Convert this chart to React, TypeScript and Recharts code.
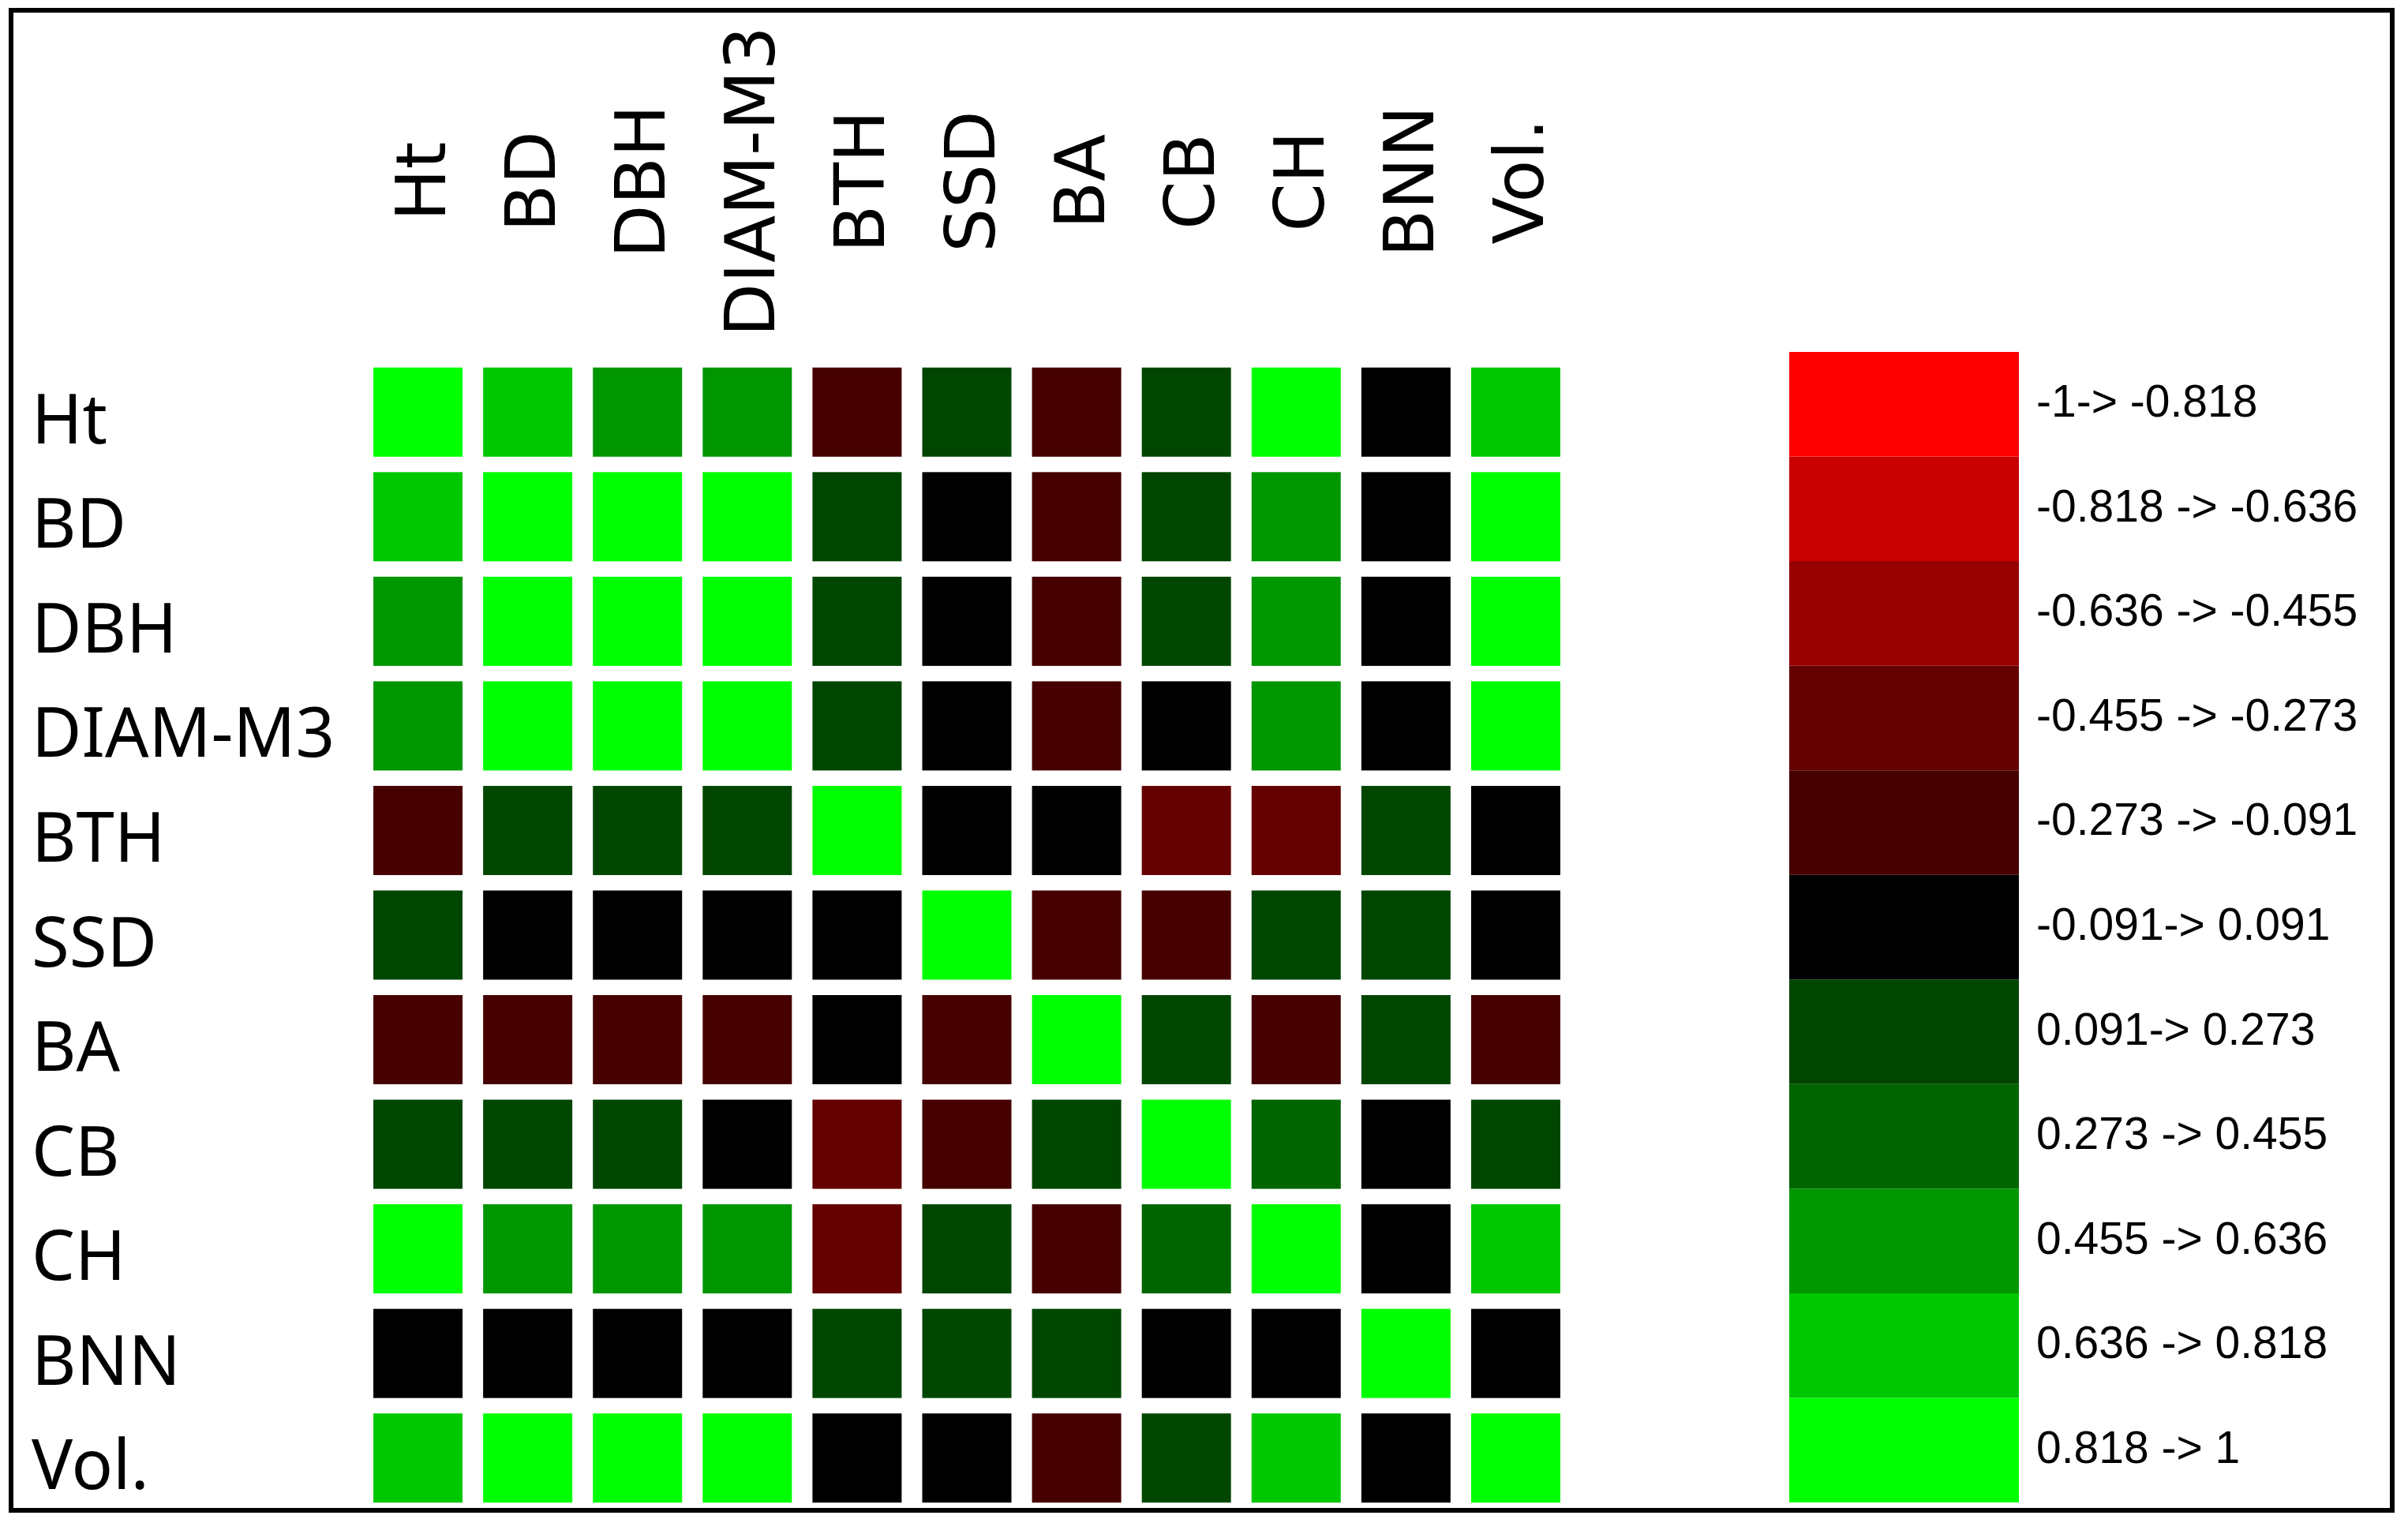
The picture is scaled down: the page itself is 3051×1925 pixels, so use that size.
import React from "react";
import { ScatterChart, Scatter, XAxis, YAxis, BarChart, Bar } from "recharts";

// variable names, same order for rows and columns
const variables = ["Ht", "BD", "DBH", "DIAM-M3", "BTH", "SSD", "BA", "CB", "CH", "BNN", "Vol."];

// correlation rows
const htRow = [1, 0.72, 0.55, 0.54, -0.2, 0.18, -0.19, 0.16, 0.88, 0.02, 0.7];
const bdRow = [0.72, 1, 0.97, 0.95, 0.15, -0.04, -0.2, 0.14, 0.52, -0.03, 0.93];
const dbhRow = [0.55, 0.97, 1, 0.96, 0.14, -0.05, -0.21, 0.13, 0.5, -0.02, 0.94];
const diamRow = [0.54, 0.95, 0.96, 1, 0.16, -0.06, -0.22, 0.08, 0.49, -0.04, 0.92];
const bthRow = [-0.2, 0.15, 0.14, 0.16, 1, 0.05, -0.07, -0.32, -0.3, 0.19, 0.04];
const ssdRow = [0.18, -0.04, -0.05, -0.06, 0.05, 1, -0.23, -0.17, 0.2, 0.12, -0.08];
const baRow = [-0.19, -0.2, -0.21, -0.22, -0.07, -0.23, 1, 0.17, -0.21, 0.15, -0.24];
const cbRow = [0.16, 0.14, 0.13, 0.08, -0.32, -0.17, 0.17, 1, 0.33, -0.01, 0.18];
const chRow = [0.88, 0.52, 0.5, 0.49, -0.3, 0.2, -0.21, 0.33, 1, 0.06, 0.69];
const bnnRow = [0.02, -0.03, -0.02, -0.04, 0.19, 0.12, 0.15, -0.01, 0.06, 1, -0.03];
const volRow = [0.7, 0.93, 0.94, 0.92, 0.04, -0.08, -0.24, 0.18, 0.69, -0.03, 1];

const rows = [htRow, bdRow, dbhRow, diamRow, bthRow, ssdRow, baRow, cbRow, chRow, bnnRow, volRow];

// colour scale
const binEdges = [-1, -0.818, -0.636, -0.455, -0.273, -0.091, 0.091, 0.273, 0.455, 0.636, 0.818, 1];
const binColors = [
  "#FF0000", "#C80000", "#960000", "#640000", "#460000", "#000000",
  "#004600", "#006400", "#009600", "#00C800", "#00FF00",
];
const binLabels = [
  "-1-> -0.818",
  "-0.818 -> -0.636",
  "-0.636 -> -0.455",
  "-0.455 -> -0.273",
  "-0.273 -> -0.091",
  "-0.091-> 0.091",
  "0.091-> 0.273",
  "0.273 -> 0.455",
  "0.455 -> 0.636",
  "0.636 -> 0.818",
  "0.818 -> 1",
];

const CELL = 113;

function colorFor(v: number) {
  for (let i = 0; i < binColors.length; i++) {
    if (v <= binEdges[i + 1]) return binColors[i];
  }
  return binColors[binColors.length - 1];
}

const cells = rows.flatMap((row, r) =>
  row.map((value, c) => ({ col: c, row: r, value }))
);

const legendRow = [
  Object.fromEntries(binColors.map((_, i) => [`b${i}`, 1]).concat([["name", "scale"]])),
];

const indexTicks = variables.map((_, i) => i);

function CellShape(props: any) {
  const { cx, cy, payload } = props;
  return (
    <rect
      x={cx - CELL / 2}
      y={cy - CELL / 2}
      width={CELL}
      height={CELL}
      fill={colorFor(payload.value)}
    />
  );
}

function ColTick(props: any) {
  const { x, payload } = props;
  return (
    <text
      transform={`translate(${x + 34.5},230) rotate(-90)`}
      textAnchor="middle"
      fontFamily="DejaVu Sans"
      fontSize={88}
      fill="#000"
    >
      {variables[payload.value]}
    </text>
  );
}

function RowTick(props: any) {
  const { y, payload } = props;
  return (
    <text x={40} y={y + 39.5} fontFamily="Noto Sans" fontSize={87} fill="#000">
      {variables[payload.value]}
    </text>
  );
}

function legendLabel(i: number) {
  return (props: any) => {
    const { x, y, width, height } = props;
    return (
      <text
        x={x + width + 22}
        y={y + height / 2 + 16}
        fontFamily="Liberation Sans, Arial"
        fontSize={57}
        fill="#000"
      >
        {binLabels[i]}
      </text>
    );
  };
}

export default function App() {
  const stackOrder = binColors.map((_, i) => binColors.length - 1 - i);
  return (
    <div
      style={{
        position: "absolute",
        left: 0,
        top: 0,
        width: 3051,
        height: 1925,
        background: "#fff",
        overflow: "hidden",
      }}
    >
      <div style={{ position: "absolute", left: 0, top: 0 }}>
        <ScatterChart
          width={3051}
          height={1925}
          margin={{ top: 0, right: 1061, bottom: 11, left: 0 }}
        >
          <XAxis
            type="number"
            dataKey="col"
            orientation="top"
            domain={[-0.5, 10.5]}
            ticks={indexTicks}
            interval={0}
            allowDataOverflow
            height={456}
            axisLine={false}
            tickLine={false}
            tick={<ColTick />}
          />
          <YAxis
            type="number"
            dataKey="row"
            domain={[-0.5, 10.5]}
            ticks={indexTicks}
            interval={0}
            allowDataOverflow
            reversed
            width={460}
            axisLine={false}
            tickLine={false}
            tick={<RowTick />}
          />
          <Scatter data={cells} shape={CellShape} isAnimationActive={false} />
        </ScatterChart>
      </div>

      <div style={{ position: "absolute", left: 2267, top: 446 }}>
        <BarChart
          width={740}
          height={1458}
          data={legendRow}
          margin={{ top: 0, right: 449, bottom: 0, left: 0 }}
          barCategoryGap={0}
          barGap={0}
        >
          <XAxis dataKey="name" hide />
          <YAxis type="number" domain={[0, 11]} hide />
          {stackOrder.map((i) => (
            <Bar
              key={i}
              dataKey={`b${i}`}
              stackId="scale"
              fill={binColors[i]}
              isAnimationActive={false}
              label={legendLabel(i)}
            />
          ))}
        </BarChart>
      </div>

      <div
        style={{
          position: "absolute",
          left: 11,
          top: 10,
          width: 3023,
          height: 1907,
          border: "6px solid #000",
          boxSizing: "border-box",
          pointerEvents: "none",
        }}
      />
    </div>
  );
}
